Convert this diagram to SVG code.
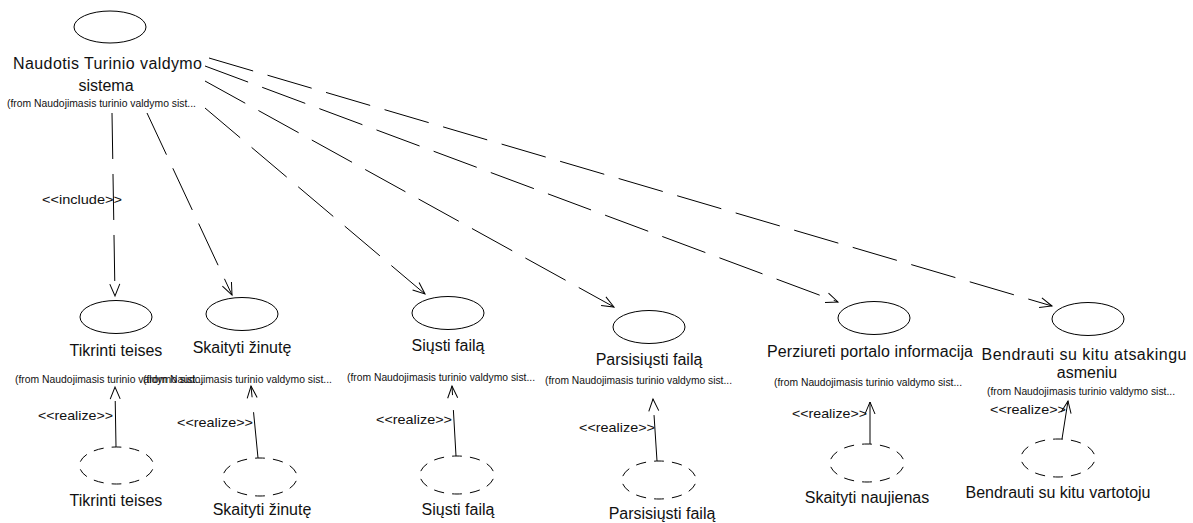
<svg xmlns="http://www.w3.org/2000/svg" width="1193" height="523" viewBox="0 0 1193 523">
  <style>
    .uc { fill: #fff; stroke: #000; stroke-width: 1; }
    .impl { fill: none; stroke: #000; stroke-width: 1; stroke-dasharray: 10 8; stroke-dashoffset: 5; }
    .name { font-family: "Liberation Sans", Arial, sans-serif; font-size: 16px; fill: #111; text-anchor: middle; }
    .from { font-family: "Liberation Sans", Arial, sans-serif; font-size: 10.5px; fill: #111; text-anchor: start; }
    .stereo { font-family: "Liberation Sans", Arial, sans-serif; font-size: 13px; fill: #111; text-anchor: start; }
    .dep { fill: none; stroke: #000; stroke-width: 1; stroke-dasharray: 46 15; marker-end: url(#open); }
  </style>
  <defs>
    <marker id="open" markerUnits="userSpaceOnUse" markerWidth="14" markerHeight="12" refX="12" refY="6" orient="auto" overflow="visible">
      <path d="M0,1 L12,6 L0,11" fill="none" stroke="#000" stroke-width="1" stroke-dasharray="none"/>
    </marker>
  </defs>
  <rect width="1193" height="523" fill="#fff"/>

  <!-- dependencies and realizations -->
  <g id="connectors">
    <path class="dep" d="M112,113 L115,296"/>
    <path class="dep" d="M147,113 L232,295"/>
    <path class="dep" d="M205,108 L425,294"/>
    <path class="dep" d="M205,81 L614,307"/>
    <path class="dep" d="M205,66 L838,302"/>
    <path class="dep" d="M209,58 L1052,306"/>

    <path class="dep" d="M116,447 L115,387"/>
    <path class="dep" d="M258,458 L251,386"/>
    <path class="dep" d="M456,456 L452,386"/>
    <path class="dep" d="M657,461 L653,399"/>
    <path class="dep" d="M870,444 L870,402"/>
    <path class="dep" d="M1062,439 L1068,401"/>

    <text class="stereo" x="42" y="204" textLength="80" lengthAdjust="spacingAndGlyphs">&lt;&lt;include&gt;&gt;</text>
    <text class="stereo" x="38" y="420" textLength="75" lengthAdjust="spacingAndGlyphs">&lt;&lt;realize&gt;&gt;</text>
    <text class="stereo" x="177" y="427" textLength="76" lengthAdjust="spacingAndGlyphs">&lt;&lt;realize&gt;&gt;</text>
    <text class="stereo" x="376" y="424" textLength="76" lengthAdjust="spacingAndGlyphs">&lt;&lt;realize&gt;&gt;</text>
    <text class="stereo" x="579" y="432" textLength="76" lengthAdjust="spacingAndGlyphs">&lt;&lt;realize&gt;&gt;</text>
    <text class="stereo" x="792" y="418" textLength="75" lengthAdjust="spacingAndGlyphs">&lt;&lt;realize&gt;&gt;</text>
    <text class="stereo" x="990" y="414" textLength="76" lengthAdjust="spacingAndGlyphs">&lt;&lt;realize&gt;&gt;</text>
  </g>

  <!-- main use case -->
  <g id="uc-naudotis">
    <ellipse class="uc" cx="110" cy="27" rx="36" ry="16"/>
    <text class="name" x="107.5" y="69" textLength="189" lengthAdjust="spacing">Naudotis Turinio valdymo</text>
    <text class="name" x="106" y="91">sistema</text>
    <text class="from" x="7" y="107" textLength="189" lengthAdjust="spacingAndGlyphs">(from Naudojimasis turinio valdymo sist...</text>
  </g>

  <!-- included / extending use cases -->
  <g id="uc-tikrinti">
    <ellipse class="uc" cx="116" cy="317" rx="36" ry="16.5"/>
    <text class="name" x="116" y="356">Tikrinti teises</text>
    <text class="from" x="15" y="383" textLength="189" lengthAdjust="spacingAndGlyphs">(from Naudojimasis turinio valdymo sist...</text>
  </g>
  <g id="uc-skaityti">
    <ellipse class="uc" cx="242" cy="314" rx="36" ry="16.5"/>
    <text class="name" x="242" y="353">Skaityti žinutę</text>
    <text class="from" x="143" y="383" textLength="189" lengthAdjust="spacingAndGlyphs">(from Naudojimasis turinio valdymo sist...</text>
  </g>
  <g id="uc-siusti">
    <ellipse class="uc" cx="448" cy="313" rx="36" ry="16.5"/>
    <text class="name" x="448" y="351">Siųsti failą</text>
    <text class="from" x="347" y="381" textLength="188" lengthAdjust="spacingAndGlyphs">(from Naudojimasis turinio valdymo sist...</text>
  </g>
  <g id="uc-parsisiusti">
    <ellipse class="uc" cx="649" cy="327" rx="36" ry="16.5"/>
    <text class="name" x="649" y="365">Parsisiųsti failą</text>
    <text class="from" x="545" y="384" textLength="187" lengthAdjust="spacingAndGlyphs">(from Naudojimasis turinio valdymo sist...</text>
  </g>
  <g id="uc-perziureti">
    <ellipse class="uc" cx="874" cy="318" rx="36" ry="16.5"/>
    <text class="name" x="870" y="357" textLength="206" lengthAdjust="spacing">Perziureti portalo informacija</text>
    <text class="from" x="774" y="386" textLength="188" lengthAdjust="spacingAndGlyphs">(from Naudojimasis turinio valdymo sist...</text>
  </g>
  <g id="uc-bendrauti">
    <ellipse class="uc" cx="1088" cy="319" rx="36" ry="16.5"/>
    <text class="name" x="1084" y="360" textLength="205" lengthAdjust="spacing">Bendrauti su kitu atsakingu</text>
    <text class="name" x="1087" y="378">asmeniu</text>
    <text class="from" x="987" y="395" textLength="188" lengthAdjust="spacingAndGlyphs">(from Naudojimasis turinio valdymo sist...</text>
  </g>

  <!-- use case realizations -->
  <g id="ucr-tikrinti">
    <path class="impl" pathLength="180" d="M116.5,447 A37,18.5 0 1 1 116.5,484 A37,18.5 0 1 1 116.5,447"/>
    <text class="name" x="116" y="506">Tikrinti teises</text>
  </g>
  <g id="ucr-skaityti">
    <path class="impl" pathLength="180" d="M260,458 A37,19 0 1 1 260,496 A37,19 0 1 1 260,458"/>
    <text class="name" x="262" y="515">Skaityti žinutę</text>
  </g>
  <g id="ucr-siusti">
    <path class="impl" pathLength="180" d="M457,456 A37,19 0 1 1 457,494 A37,19 0 1 1 457,456"/>
    <text class="name" x="458" y="515">Siųsti failą</text>
  </g>
  <g id="ucr-parsisiusti">
    <path class="impl" pathLength="180" d="M659,461 A37,19 0 1 1 659,499 A37,19 0 1 1 659,461"/>
    <text class="name" x="662" y="519">Parsisiųsti failą</text>
  </g>
  <g id="ucr-skaityti-naujienas">
    <path class="impl" pathLength="180" d="M867,444 A37,19 0 1 1 867,482 A37,19 0 1 1 867,444"/>
    <text class="name" x="867" y="503">Skaityti naujienas</text>
  </g>
  <g id="ucr-bendrauti">
    <path class="impl" pathLength="180" d="M1058,439 A37,19 0 1 1 1058,477 A37,19 0 1 1 1058,439"/>
    <text class="name" x="1058" y="498">Bendrauti su kitu vartotoju</text>
  </g>
</svg>
